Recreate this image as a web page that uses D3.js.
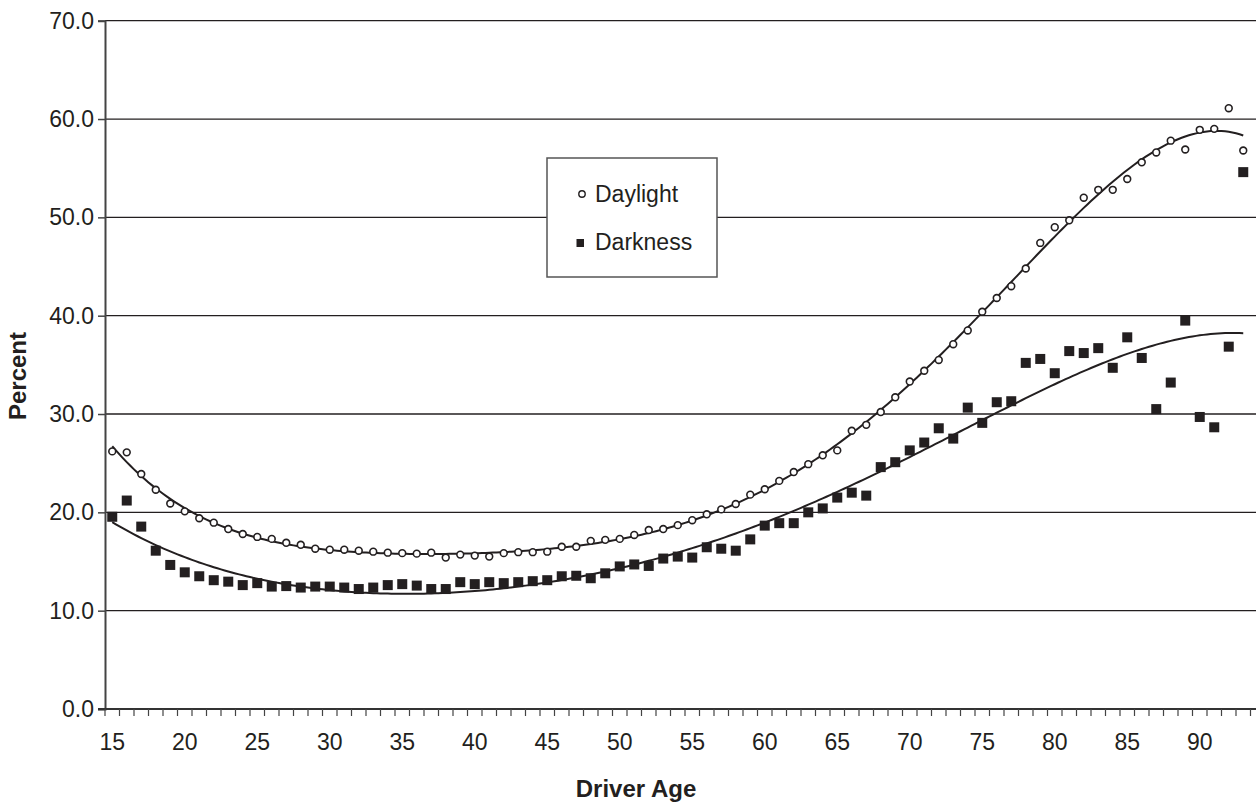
<!DOCTYPE html>
<html>
<head>
<meta charset="utf-8">
<script src="https://cdn.jsdelivr.net/npm/d3@7"></script>
<style>
  body { margin: 0; background: #fff; }
  svg { display: block; }
  text { font-family: "Liberation Sans", Arial, Helvetica, sans-serif; fill: #231f20; }
</style>
</head>
<body>
<svg id="chart" width="1256" height="807"></svg>
<script>
// Driver age categories
const ages = [15, 16, 17, 18, 19, 20, 21, 22, 23, 24, 25, 26, 27, 28, 29, 30, 31, 32, 33, 34,
  35, 36, 37, 38, 39, 40, 41, 42, 43, 44, 45, 46, 47, 48, 49, 50, 51, 52, 53, 54,
  55, 56, 57, 58, 59, 60, 61, 62, 63, 64, 65, 66, 67, 68, 69, 70, 71, 72, 73, 74,
  75, 76, 77, 78, 79, 80, 81, 82, 83, 84, 85, 86, 87, 88, 89, 90, 91, 92, 93];

// Labelled ages on the x axis and value ticks on the y axis
const ageLabels = [15, 20, 25, 30, 35, 40, 45, 50, 55, 60, 65, 70, 75, 80, 85, 90];
const percentTicks = [0, 10, 20, 30, 40, 50, 60, 70];

// Percent by driver age
const daylight = [26.2, 26.1, 23.9, 22.3, 20.9, 20.1, 19.4, 18.95, 18.3, 17.8,
  17.5, 17.3, 16.9, 16.7, 16.3, 16.2, 16.2, 16.1, 16.0, 15.9,
  15.85, 15.8, 15.9, 15.4, 15.7, 15.6, 15.5, 15.85, 15.95, 15.95,
  16.0, 16.5, 16.5, 17.1, 17.2, 17.3, 17.7, 18.2, 18.3, 18.7,
  19.2, 19.8, 20.3, 20.85, 21.8, 22.35, 23.2, 24.1, 24.9, 25.8,
  26.3, 28.3, 28.9, 30.2, 31.7, 33.3, 34.4, 35.5, 37.1, 38.5,
  40.4, 41.8, 43.0, 44.8, 47.4, 49.0, 49.7, 52.0, 52.8, 52.8,
  53.9, 55.6, 56.6, 57.8, 56.9, 58.9, 59.0, 61.1, 56.8];

const darkness = [19.55, 21.2, 18.55, 16.1, 14.65, 13.9, 13.5, 13.1, 12.95, 12.6,
  12.8, 12.45, 12.5, 12.35, 12.45, 12.45, 12.35, 12.2, 12.35, 12.6,
  12.7, 12.55, 12.2, 12.2, 12.9, 12.7, 12.9, 12.8, 12.9, 13.0,
  13.1, 13.5, 13.55, 13.3, 13.8, 14.5, 14.7, 14.55, 15.3, 15.5,
  15.4, 16.45, 16.3, 16.1, 17.25, 18.65, 18.9, 18.9, 20.0, 20.4,
  21.5, 22.0, 21.7, 24.6, 25.1, 26.3, 27.1, 28.55, 27.5, 30.65,
  29.1, 31.2, 31.3, 35.2, 35.6, 34.15, 36.4, 36.2, 36.7, 34.7,
  37.8, 35.7, 30.5, 33.2, 39.5, 29.7, 28.65, 36.85, 54.6];

// Polynomial trend line orders
const daylightOrder = 6;
const darknessOrder = 5;

const ink = "#231f20";
const svg = d3.select("#chart");

const plot = { left: 105, right: 1250.5, top: 20.7, bottom: 709, gridEnd: 1256 };

const x = d3.scaleBand().domain(ages).range([plot.left, plot.right]).paddingInner(0).paddingOuter(0);
const y = d3.scaleLinear().domain([0, 70]).range([plot.bottom, plot.top]);
const cx = a => x(a) + x.bandwidth() / 2;
// continuous age -> pixel (for the trend curves)
const xc = d3.scaleLinear().domain([ages[0], ages[ages.length - 1]])
  .range([cx(ages[0]), cx(ages[ages.length - 1])]);

// Least-squares polynomial fit
function polyFit(xs, ys, order) {
  const n = xs.length;
  const mid = (d3.min(xs) + d3.max(xs)) / 2, half = (d3.max(xs) - d3.min(xs)) / 2;
  const t = xs.map(v => (v - mid) / half);
  const m = order + 1;
  const A = Array.from({ length: m }, () => new Array(m + 1).fill(0));
  for (let i = 0; i < n; i++) {
    const p = [];
    for (let k = 0; k < m; k++) p.push(Math.pow(t[i], k));
    for (let r = 0; r < m; r++) {
      for (let c = 0; c < m; c++) A[r][c] += p[r] * p[c];
      A[r][m] += p[r] * ys[i];
    }
  }
  for (let col = 0; col < m; col++) {
    let piv = col;
    for (let r = col + 1; r < m; r++) if (Math.abs(A[r][col]) > Math.abs(A[piv][col])) piv = r;
    [A[col], A[piv]] = [A[piv], A[col]];
    for (let r = 0; r < m; r++) {
      if (r === col) continue;
      const f = A[r][col] / A[col][col];
      for (let c = col; c <= m; c++) A[r][c] -= f * A[col][c];
    }
  }
  const coef = A.map((row, i) => row[m] / row[i]);
  return v => {
    const tt = (v - mid) / half;
    let s = 0;
    for (let k = 0; k < m; k++) s += coef[k] * Math.pow(tt, k);
    return s;
  };
}

// Horizontal gridlines
svg.append("g")
  .selectAll("line")
  .data(percentTicks.filter(d => d > 0))
  .join("line")
  .attr("x1", plot.left).attr("x2", plot.gridEnd)
  .attr("y1", d => y(d)).attr("y2", d => y(d))
  .attr("stroke", ink).attr("stroke-width", 1.3);

// Y axis
const yAxis = svg.append("g")
  .attr("transform", `translate(${plot.left},0)`)
  .call(d3.axisLeft(y).tickValues(percentTicks).tickSize(7).tickPadding(4)
    .tickFormat(d3.format(".1f")));
yAxis.select(".domain").attr("stroke", "#444").attr("stroke-width", 2);
yAxis.selectAll(".tick line").attr("stroke", "#444").attr("stroke-width", 1.5);
yAxis.selectAll("text").style("font-size", "23px").attr("fill", ink);

// X axis baseline and category boundary ticks
svg.append("line")
  .attr("x1", plot.left - 7).attr("x2", plot.gridEnd)
  .attr("y1", y(0)).attr("y2", y(0))
  .attr("stroke", "#333").attr("stroke-width", 2);

const boundaries = ages.map(a => x(a)).concat([plot.right]);
svg.append("g")
  .selectAll("line")
  .data(boundaries)
  .join("line")
  .attr("x1", d => d).attr("x2", d => d)
  .attr("y1", y(0)).attr("y2", y(0) + 7)
  .attr("stroke", "#444").attr("stroke-width", 1.2);

const xAxis = svg.append("g")
  .attr("transform", `translate(0,${y(0)})`)
  .call(d3.axisBottom(x).tickValues(ageLabels).tickSize(0).tickPadding(25));
xAxis.select(".domain").remove();
xAxis.selectAll("text").style("font-size", "23px").attr("fill", ink);

// Axis titles
svg.append("text")
  .attr("transform", "translate(26,376) rotate(-90)")
  .attr("text-anchor", "middle")
  .style("font-size", "24px").style("font-weight", "bold")
  .text("Percent");

svg.append("text")
  .attr("x", 636).attr("y", 797)
  .attr("text-anchor", "middle")
  .style("font-size", "24px").style("font-weight", "bold")
  .text("Driver Age");

// Trend lines
const fine = d3.range(ages[0], ages[ages.length - 1] + 0.001, 0.25);
const line = d3.line().x(d => xc(d[0])).y(d => y(d[1])).curve(d3.curveLinear);
[[daylight, daylightOrder], [darkness, darknessOrder]].forEach(([series, order]) => {
  const f = polyFit(ages, series, order);
  svg.append("path")
    .datum(fine.map(a => [a, f(a)]))
    .attr("d", line)
    .attr("fill", "none")
    .attr("stroke", ink)
    .attr("stroke-width", 2);
});

// Markers
svg.append("g")
  .selectAll("rect")
  .data(ages.map((a, i) => [a, darkness[i]]))
  .join("rect")
  .attr("x", d => cx(d[0]) - 5).attr("y", d => y(d[1]) - 5)
  .attr("width", 10).attr("height", 10)
  .attr("fill", ink);

svg.append("g")
  .selectAll("circle")
  .data(ages.map((a, i) => [a, daylight[i]]))
  .join("circle")
  .attr("cx", d => cx(d[0])).attr("cy", d => y(d[1]))
  .attr("r", 3.4)
  .attr("fill", "#fff")
  .attr("stroke", ink).attr("stroke-width", 1.6);

// Legend
const legend = svg.append("g");
legend.append("rect")
  .attr("x", 547).attr("y", 158).attr("width", 170).attr("height", 119)
  .attr("fill", "#fff").attr("stroke", "#555").attr("stroke-width", 1.5);
legend.append("circle")
  .attr("cx", 582).attr("cy", 194).attr("r", 3.2)
  .attr("fill", "#fff").attr("stroke", ink).attr("stroke-width", 1.4);
legend.append("text").attr("x", 595).attr("y", 202)
  .style("font-size", "23px").text("Daylight");
legend.append("rect")
  .attr("x", 576.5).attr("y", 239).attr("width", 7.5).attr("height", 8)
  .attr("fill", ink);
legend.append("text").attr("x", 595).attr("y", 250)
  .style("font-size", "23px").text("Darkness");
</script>
</body>
</html>
